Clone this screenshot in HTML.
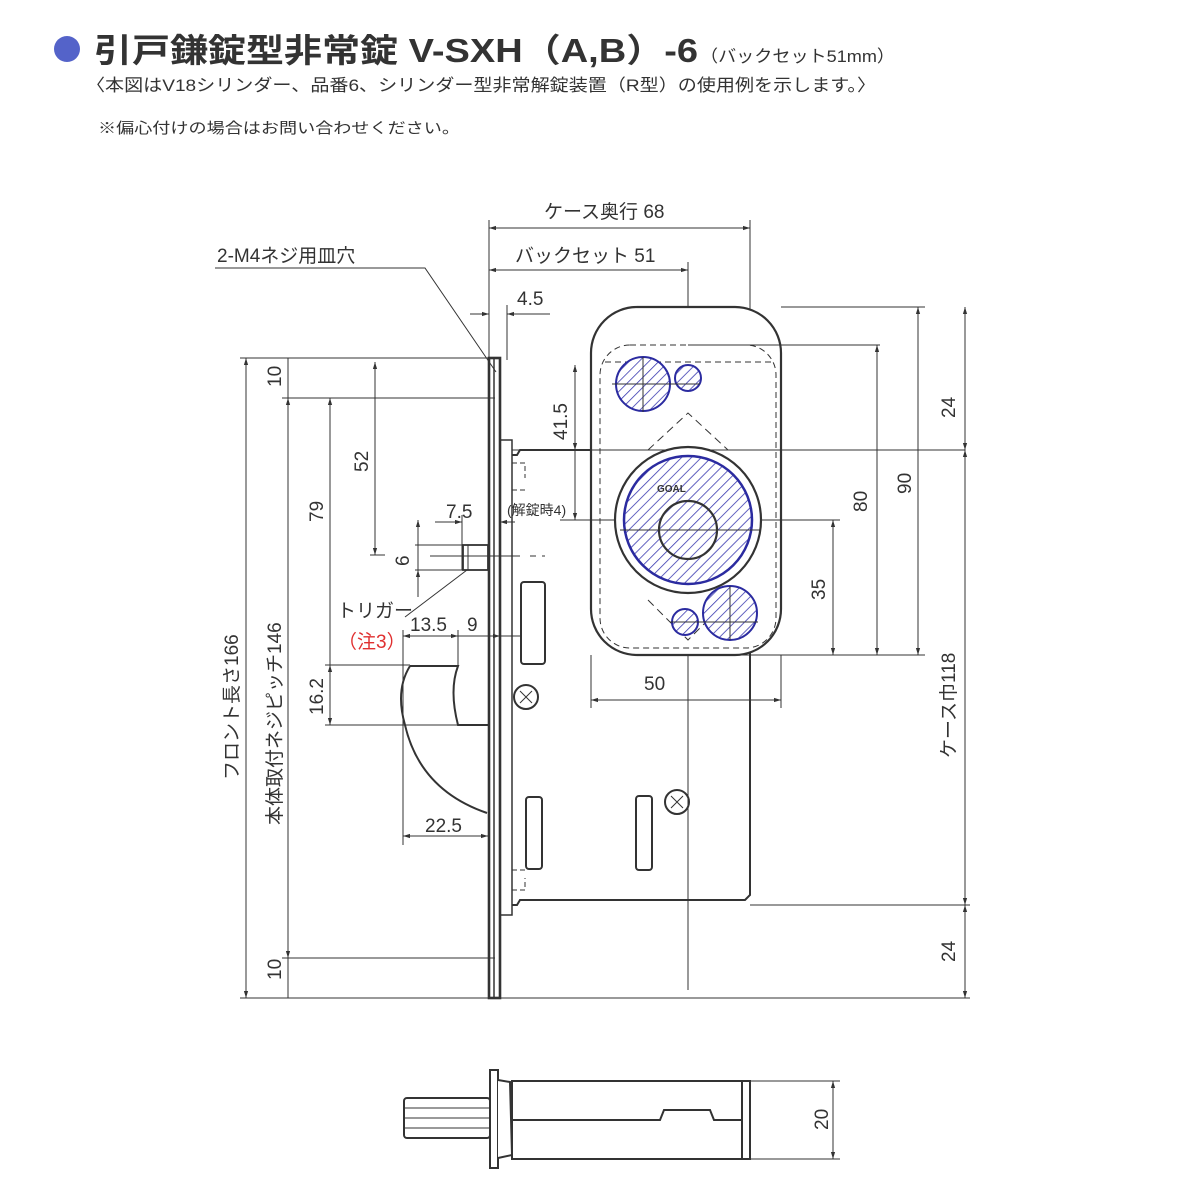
<!DOCTYPE html>
<html><head><meta charset="utf-8">
<style>
html,body{margin:0;padding:0;background:#fff;}
svg{display:block;}
text{font-family:"Liberation Sans","Noto Sans CJK JP",sans-serif;fill:#333;}
</style></head><body>
<svg width="1200" height="1200" viewBox="0 0 1200 1200" xmlns="http://www.w3.org/2000/svg">
<defs>
<pattern id="h" patternUnits="userSpaceOnUse" width="7" height="7" patternTransform="rotate(45)">
<rect width="7" height="7" fill="#fff"/><line x1="0" y1="0" x2="0" y2="7" stroke="#3a3ab0" stroke-width="1.6"/>
</pattern>
<marker id="a" viewBox="0 0 10 10" refX="10" refY="5" markerWidth="7" markerHeight="7" orient="auto-start-reverse"><path d="M0,2 L10,5 L0,8z" fill="#333"/></marker>
</defs>
<!-- header -->
<circle cx="67" cy="49" r="13" fill="#5463c9"/>
<text x="94" y="62" font-size="33" font-weight="bold" fill="#222" textLength="604" lengthAdjust="spacingAndGlyphs">引戸鎌錠型非常錠 V-SXH（A,B）-6</text>
<text x="700" y="62" font-size="17" fill="#222" textLength="195" lengthAdjust="spacingAndGlyphs">（バックセット51mm）</text>
<text x="86" y="91" font-size="17" fill="#222" textLength="790" lengthAdjust="spacingAndGlyphs">〈本図はV18シリンダー、品番6、シリンダー型非常解錠装置（R型）の使用例を示します。〉</text>
<text x="98" y="133" font-size="15" fill="#222" textLength="362" lengthAdjust="spacingAndGlyphs">※偏心付けの場合はお問い合わせください。</text>

<g stroke="#333" fill="none" stroke-width="1">
<!-- top dims -->
<line x1="489" y1="220" x2="489" y2="360"/>
<line x1="750" y1="220" x2="750" y2="450"/>
<line x1="489" y1="228" x2="750" y2="228" marker-start="url(#a)" marker-end="url(#a)"/>
<line x1="688" y1="262" x2="688" y2="990"/>
<line x1="489" y1="270" x2="688" y2="270" marker-start="url(#a)" marker-end="url(#a)"/>
<line x1="507" y1="305" x2="507" y2="360"/>
<line x1="470" y1="314" x2="489" y2="314" marker-end="url(#a)"/>
<line x1="550" y1="314" x2="507" y2="314" marker-end="url(#a)"/>
<!-- leader 2-M4 -->
<polyline points="215,268 425,268 496,372"/>
<!-- left extension lines -->
<line x1="240" y1="358" x2="495" y2="358"/>
<line x1="282" y1="398" x2="495" y2="398"/>
<line x1="282" y1="958" x2="495" y2="958"/>
<line x1="240" y1="998" x2="495" y2="998"/>
<line x1="246" y1="358" x2="246" y2="998" marker-start="url(#a)" marker-end="url(#a)"/>
<line x1="288" y1="358" x2="288" y2="998"/>
<line x1="288" y1="398" x2="288" y2="958" marker-start="url(#a)" marker-end="url(#a)"/>
<line x1="330" y1="398" x2="330" y2="725" marker-start="url(#a)"/>
<line x1="375" y1="362" x2="375" y2="555" marker-start="url(#a)" marker-end="url(#a)"/>
<line x1="370" y1="555" x2="385" y2="555"/>
<line x1="330" y1="665" x2="330" y2="725" marker-start="url(#a)" marker-end="url(#a)"/>
<line x1="325" y1="665" x2="410" y2="665"/>
<line x1="325" y1="725" x2="490" y2="725"/>
<!-- 6 / 7.5 -->
<line x1="418" y1="520" x2="418" y2="597"/>
<line x1="418" y1="545" x2="418" y2="520" marker-end="url(#a)"/>
<line x1="418" y1="570" x2="418" y2="597" marker-start="url(#a)"/>
<line x1="415" y1="545" x2="465" y2="545"/>
<line x1="415" y1="570" x2="465" y2="570"/>
<line x1="435" y1="522" x2="462" y2="522" marker-end="url(#a)"/>
<line x1="462" y1="515" x2="462" y2="570"/>
<line x1="515" y1="522" x2="500" y2="522" marker-end="url(#a)"/>
<line x1="430" y1="556" x2="520" y2="556"/>
<line x1="530" y1="556" x2="545" y2="556" stroke-dasharray="6,6"/>
<rect x="463" y="545" width="25" height="25" stroke-width="1.8"/>
<line x1="468" y1="545" x2="468" y2="570"/>
<polyline points="405,617 467,570"/>
<!-- 13.5 / 9 -->
<line x1="403" y1="636" x2="458" y2="636" marker-start="url(#a)" marker-end="url(#a)"/>
<line x1="458" y1="636" x2="500" y2="636" marker-end="url(#a)"/>
<line x1="520" y1="636" x2="500" y2="636"/>
<line x1="403" y1="630" x2="403" y2="845"/>
<line x1="458" y1="630" x2="458" y2="665"/>
<!-- hook -->
<path d="M410,666 L458,666 Q449,690 458,725 L490,725" stroke-width="2"/>
<path d="M410,666 Q395,690 405,725 Q420,790 487,813" stroke-width="2"/>
<line x1="403" y1="836" x2="488" y2="836" marker-start="url(#a)" marker-end="url(#a)"/>
<!-- front plate -->
<rect x="489" y="358" width="11" height="640" stroke-width="2.6"/>
<line x1="494" y1="358" x2="494" y2="998" stroke-width="1.5"/>
<path d="M500,440 L512,440 L512,915 L500,915" stroke-width="1.5"/>
<!-- case -->
<path d="M512,455 L517,455 L520,450 L750,450 L750,895 L745,900 L520,900 L517,905 L512,905" stroke-width="2"/>
<path d="M512,463 L525,463 L525,478 M512,490 L525,490 M512,870 L525,870 M512,890 L525,890 L525,878" stroke-dasharray="5,3"/>
<rect x="521" y="582" width="24" height="82" rx="3" stroke-width="2"/>
<rect x="526" y="797" width="16" height="72" rx="3" stroke-width="2"/>
<rect x="636" y="796" width="16" height="74" rx="3" stroke-width="2"/>
<circle cx="526" cy="697" r="12" stroke-width="2"/>
<path d="M520,691 L532,703 M532,691 L520,703"/>
<circle cx="677" cy="802" r="12" stroke-width="2"/>
<path d="M671,796 L683,808 M683,796 L671,808"/>
<!-- escutcheon -->
<rect x="591" y="307" width="190" height="348" rx="46" stroke-width="2.2" fill="#fff"/>
<rect x="600" y="345" width="176" height="303" rx="30" stroke-dasharray="6,4"/>
<path d="M605,362 L775,362" stroke-dasharray="6,4"/>
<path d="M648,450 L688,413 L728,450 M648,600 L688,640 L728,600" stroke-dasharray="8,5"/>
<!-- horizontal centerlines -->
<line x1="512" y1="450" x2="965" y2="450"/>
<line x1="560" y1="520" x2="840" y2="520"/>
<line x1="688" y1="345" x2="880" y2="345"/>
<line x1="781" y1="307" x2="925" y2="307"/>
<line x1="688" y1="655" x2="925" y2="655"/>
<line x1="750" y1="905" x2="970" y2="905"/>
<line x1="500" y1="998" x2="970" y2="998"/>
<line x1="575" y1="365" x2="575" y2="450" marker-start="url(#a)" marker-end="url(#a)"/>
<line x1="575" y1="450" x2="575" y2="520" marker-end="url(#a)"/>
<!-- right dims -->
<line x1="965" y1="307" x2="965" y2="998"/>
<line x1="965" y1="307" x2="965" y2="450" marker-start="url(#a)" marker-end="url(#a)"/>
<line x1="965" y1="450" x2="965" y2="905" marker-start="url(#a)" marker-end="url(#a)"/>
<line x1="965" y1="905" x2="965" y2="998" marker-start="url(#a)" marker-end="url(#a)"/>
<line x1="918" y1="307" x2="918" y2="655" marker-start="url(#a)" marker-end="url(#a)"/>
<line x1="877" y1="345" x2="877" y2="655" marker-start="url(#a)" marker-end="url(#a)"/>
<line x1="833" y1="520" x2="833" y2="655" marker-start="url(#a)" marker-end="url(#a)"/>
<!-- 50 -->
<line x1="591" y1="655" x2="591" y2="708"/>
<line x1="781" y1="655" x2="781" y2="708"/>
<line x1="591" y1="700" x2="781" y2="700" marker-start="url(#a)" marker-end="url(#a)"/>
</g>
<!-- cylinder -->
<circle cx="688" cy="520" r="73" fill="#fff" stroke="#333" stroke-width="2.2"/>
<circle cx="688" cy="520" r="64" fill="url(#h)" stroke="#2b2ba0" stroke-width="2.5"/>
<circle cx="688" cy="530" r="29" fill="url(#h)" stroke="#333" stroke-width="2.2"/>
<text x="657" y="492" font-size="10" font-weight="bold" fill="#555">GOAL</text>
<circle cx="643" cy="384" r="27" fill="url(#h)" stroke="#2b2ba0" stroke-width="2"/>
<circle cx="688" cy="378" r="13" fill="url(#h)" stroke="#2b2ba0" stroke-width="2"/>
<circle cx="730" cy="613" r="27" fill="url(#h)" stroke="#2b2ba0" stroke-width="2"/>
<circle cx="685" cy="622" r="13" fill="url(#h)" stroke="#2b2ba0" stroke-width="2"/>
<g stroke="#333" stroke-width="1"><line x1="612" y1="384" x2="700" y2="384"/><line x1="643" y1="357" x2="643" y2="412"/><line x1="670" y1="622" x2="758" y2="622"/><line x1="730" y1="586" x2="730" y2="640"/><line x1="620" y1="530" x2="760" y2="530"/></g>

<!-- labels -->
<g font-size="19">
<text x="544" y="218">ケース奥行 68</text>
<text x="515" y="262">バックセット 51</text>
<text x="217" y="262">2-M4ネジ用皿穴</text>
<text x="517" y="305">4.5</text>
<text x="446" y="518">7.5</text>
<text x="337" y="617">トリガー</text>
<text x="338" y="648" fill="#e03030" style="fill:#e03030">（注3）</text>
<text x="410" y="631">13.5</text>
<text x="467" y="631">9</text>
<text x="425" y="832">22.5</text>
<text x="644" y="690">50</text>
<text x="507" y="515" font-size="14">(解錠時4)</text>
</g>
<g font-size="19">
<text transform="translate(281,387) rotate(-90)">10</text>
<text transform="translate(281,980) rotate(-90)">10</text>
<text transform="translate(368,472) rotate(-90)">52</text>
<text transform="translate(323,522) rotate(-90)">79</text>
<text transform="translate(409,566) rotate(-90)">6</text>
<text transform="translate(323,715) rotate(-90)">16.2</text>
<text transform="translate(567,440) rotate(-90)">41.5</text>
<text transform="translate(238,780) rotate(-90)">フロント長さ166</text>
<text transform="translate(281,825) rotate(-90)">本体取付ネジピッチ146</text>
<text transform="translate(955,418) rotate(-90)">24</text>
<text transform="translate(955,758) rotate(-90)">ケース巾118</text>
<text transform="translate(955,962) rotate(-90)">24</text>
<text transform="translate(911,494) rotate(-90)">90</text>
<text transform="translate(867,512) rotate(-90)">80</text>
<text transform="translate(825,600) rotate(-90)">35</text>
<text transform="translate(828,1130) rotate(-90)">20</text>
</g>
<!-- bottom cylinder -->
<g stroke="#333" fill="#fff" stroke-width="2">
<rect x="404" y="1098" width="86" height="40" rx="3"/>
<line x1="404" y1="1108" x2="490" y2="1108" stroke-width="1"/>
<line x1="404" y1="1118" x2="490" y2="1118" stroke-width="1"/>
<line x1="404" y1="1128" x2="490" y2="1128" stroke-width="1"/>
<rect x="490" y="1070" width="8" height="98"/>
<path d="M498,1080 L510,1082 L512,1155 L498,1158"/>
<rect x="512" y="1081" width="230" height="78"/>
<path d="M512,1120 L660,1120 L664,1110 L710,1110 L714,1120 L742,1120" fill="none"/>
<rect x="742" y="1081" width="8" height="78"/>
</g>
<g stroke="#333" stroke-width="1" fill="none">
<line x1="750" y1="1081" x2="840" y2="1081"/>
<line x1="750" y1="1159" x2="840" y2="1159"/>
<line x1="833" y1="1081" x2="833" y2="1159" marker-start="url(#a)" marker-end="url(#a)"/>
</g>
</svg>
</body></html>
